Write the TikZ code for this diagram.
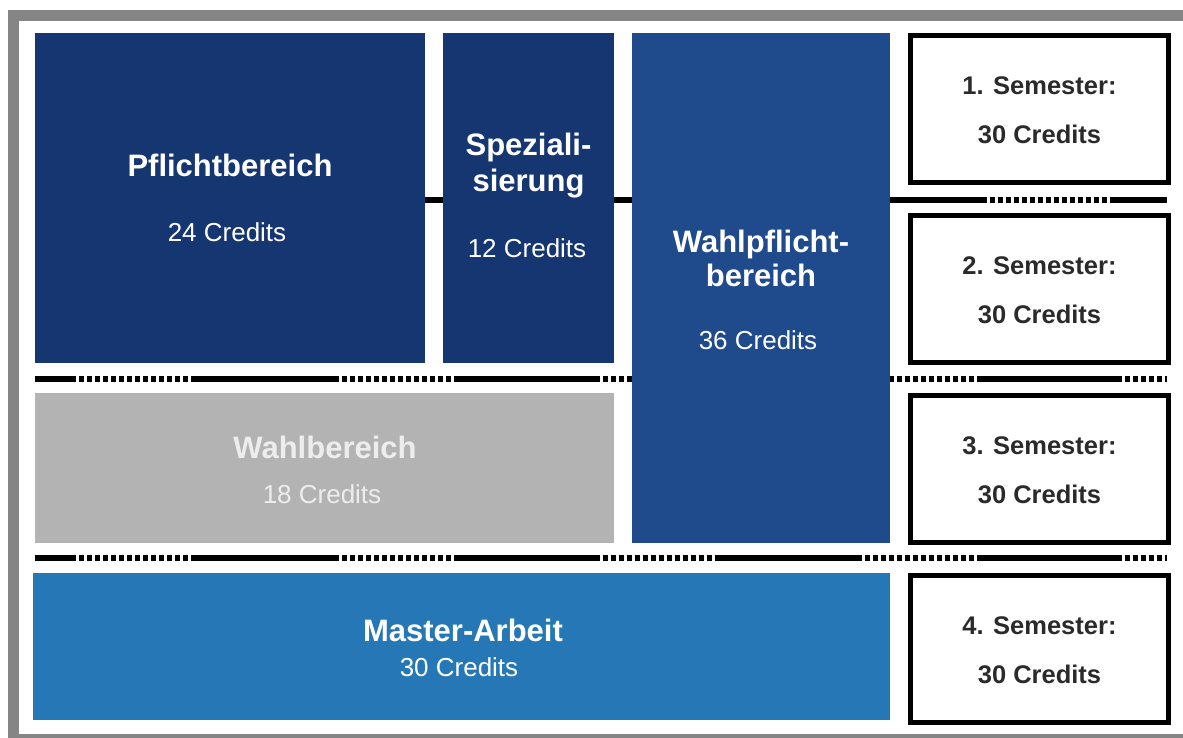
\documentclass[tikz,border=0pt]{standalone}
\usepackage{fontspec}
\setmainfont{Liberation Sans}
\definecolor{navy}{HTML}{163672}
\definecolor{wpblue}{HTML}{1F4A8C}
\definecolor{wgray}{HTML}{B3B3B3}
\definecolor{wtext}{HTML}{EDEDED}
\definecolor{mblue}{HTML}{2578B5}
\definecolor{framegray}{HTML}{858585}
\definecolor{semtext}{HTML}{2A2A2A}
\begin{document}
\begin{tikzpicture}[x=1pt,y=-1pt,
  area/.style={draw=none, inner sep=0pt, outer sep=0pt, anchor=north west},
  title/.style={text=white, font=\fontsize{31}{35}\selectfont\bfseries, anchor=base, inner sep=0pt},
  cred/.style={text=white, font=\fontsize{26}{30}\selectfont, anchor=base, inner sep=0pt},
  sembox/.style={draw=black, line width=5pt, fill=white, inner sep=0pt, outer sep=0pt, anchor=north west, minimum width=258pt, minimum height=147pt},
  semtxt/.style={text=semtext, font=\fontsize{25.5}{30}\selectfont\bfseries, anchor=base, inner sep=0pt},
  solidseg/.style={line width=6pt, black},
  dotseg/.style={line width=6pt, black, dash pattern=on 5pt off 3pt},
]
\useasboundingbox (0,0) rectangle (1183,738);
\clip (0,0) rectangle (1183,738);
\fill[white] (0,0) rectangle (1183,738);
% outer frame (right side runs off the picture)
\draw[framegray, line width=11pt] (13.5,15.5) -- (1220,15.5);
\draw[framegray, line width=11pt] (13.5,10) -- (13.5,745);
\draw[framegray, line width=11pt] (8,739.5) -- (1220,739.5);

% separator lines
\draw[solidseg] (425,200) -- (982,200);
\draw[dotseg] (982,200) -- (1112,200);
\draw[solidseg] (1112,200) -- (1167,200);
\foreach \yy in {379,558}{
  \foreach \a/\b in {35/71,195/334,454/595,719/857,979/1117}
    \draw[solidseg] (\a,\yy) -- (\b,\yy);
  \foreach \a/\b in {71/195,334/454,595/719,857/979,1117/1167}
    \draw[dotseg] (\a,\yy) -- (\b,\yy);
}

% coloured areas
\node[area, fill=navy, minimum width=390pt, minimum height=330pt] (pflicht) at (35,33) {};
\node[area, fill=navy, minimum width=171pt, minimum height=330pt] (spez) at (443,33) {};
\node[area, fill=wpblue, minimum width=258pt, minimum height=510pt] (wahlpf) at (632,33) {};
\node[area, fill=wgray, minimum width=579pt, minimum height=150pt] (wahl) at (35,393) {};
\node[area, fill=mblue, minimum width=857pt, minimum height=147pt] (master) at (33,573) {};

% texts in areas
\node[title] (pflichtT) at (230,177) {Pflichtbereich};
\node[cred] (pflichtC) at (227,241) {24 Credits};
\node[title] (spezT1) at (528.5,156) {Speziali-};
\node[title] (spezT2) at (528.5,192) {sierung};
\node[cred] (spezC) at (527,258) {12 Credits};
\node[title] (wahlpfT1) at (761,252) {Wahlpflicht-};
\node[title] (wahlpfT2) at (761,286) {bereich};
\node[cred] (wahlpfC) at (758,349) {36 Credits};
\node[title, text=wtext] (wahlT) at (325,458) {Wahlbereich};
\node[cred, text=wtext] (wahlC) at (322,503) {18 Credits};
\node[title] (masterT) at (463,641) {Master-Arbeit};
\node[cred] (masterC) at (459,676) {30 Credits};

% semester boxes
\foreach \i/\t in {1/35.5,2/215.5,3/395.5,4/575.5}{
  \node[sembox] (sem\i) at (910.5,\t) {};
  \node[semtxt] (sem\i T) at ([yshift=-59pt]sem\i.north) {\i. Semester:};
  \node[semtxt] (sem\i C) at ([yshift=-108pt]sem\i.north) {30 Credits};
}
\end{tikzpicture}
\end{document}
